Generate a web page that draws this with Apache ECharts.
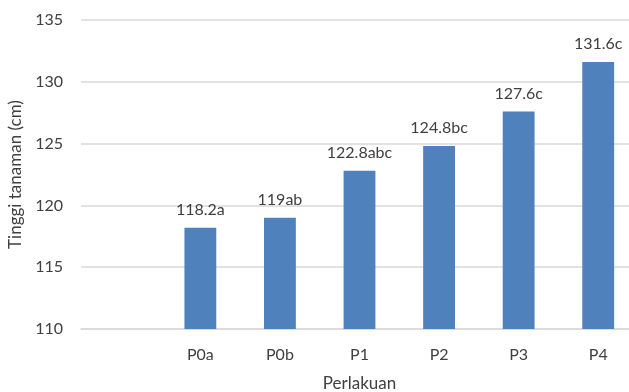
<!doctype html>
<html>
<head>
<meta charset="UTF-8">
<title>Tinggi tanaman</title>
<script src="https://cdn.jsdelivr.net/npm/echarts@6/dist/echarts.min.js"></script>
<style>
  html, body { margin: 0; padding: 0; background: #fff; }
  #main { width: 629px; height: 392px; }
</style>
</head>
<body>
<div id="main"></div>
<script>
// data
var categories = ['', 'P0a', 'P0b', 'P1', 'P2', 'P3', 'P4'];
var heights = [null, 118.2, 119, 122.8, 124.8, 127.6, 131.6];
var notations = ['', 'a', 'ab', 'abc', 'bc', 'c', 'c'];
var yTicks = [110, 115, 120, 125, 130, 135];

var font = 'Lato, "Open Sans", sans-serif';
var textColor = '#404040';

var myChart = echarts.init(document.getElementById('main'));
var option = {
  animation: false,
  grid: { left: 81, top: 20, width: 557, height: 309, outerBoundsMode: 'none', containLabel: false },
  xAxis: {
    type: 'category',
    data: categories,
    name: 'Perlakuan',
    nameLocation: 'middle',
    nameGap: 46,
    nameTextStyle: { fontFamily: font, fontSize: 17, color: textColor },
    axisLine: { lineStyle: { color: '#d9d9d9', width: 1.5 } },
    axisTick: { show: false },
    axisLabel: { fontFamily: font, fontSize: 16, color: textColor, margin: 18 }
  },
  yAxis: {
    type: 'value',
    min: yTicks[0],
    max: yTicks[yTicks.length - 1],
    interval: 5,
    name: 'Tinggi tanaman (cm)',
    nameLocation: 'middle',
    nameGap: 55,
    nameTextStyle: { fontFamily: font, fontSize: 17, color: textColor },
    axisLine: { show: false },
    axisTick: { show: false },
    axisLabel: { fontFamily: font, fontSize: 16, color: textColor, margin: 18 },
    splitLine: { lineStyle: { color: '#d9d9d9', width: 1.5 } }
  },
  series: [{
    type: 'bar',
    data: heights,
    barWidth: '40%',
    itemStyle: { color: '#4f81bd' },
    label: {
      show: true,
      position: 'top',
      distance: 10,
      fontFamily: font,
      fontSize: 16,
      color: textColor,
      formatter: function (p) {
        return p.value + notations[p.dataIndex];
      }
    }
  }]
};
myChart.setOption(option);
</script>
</body>
</html>
